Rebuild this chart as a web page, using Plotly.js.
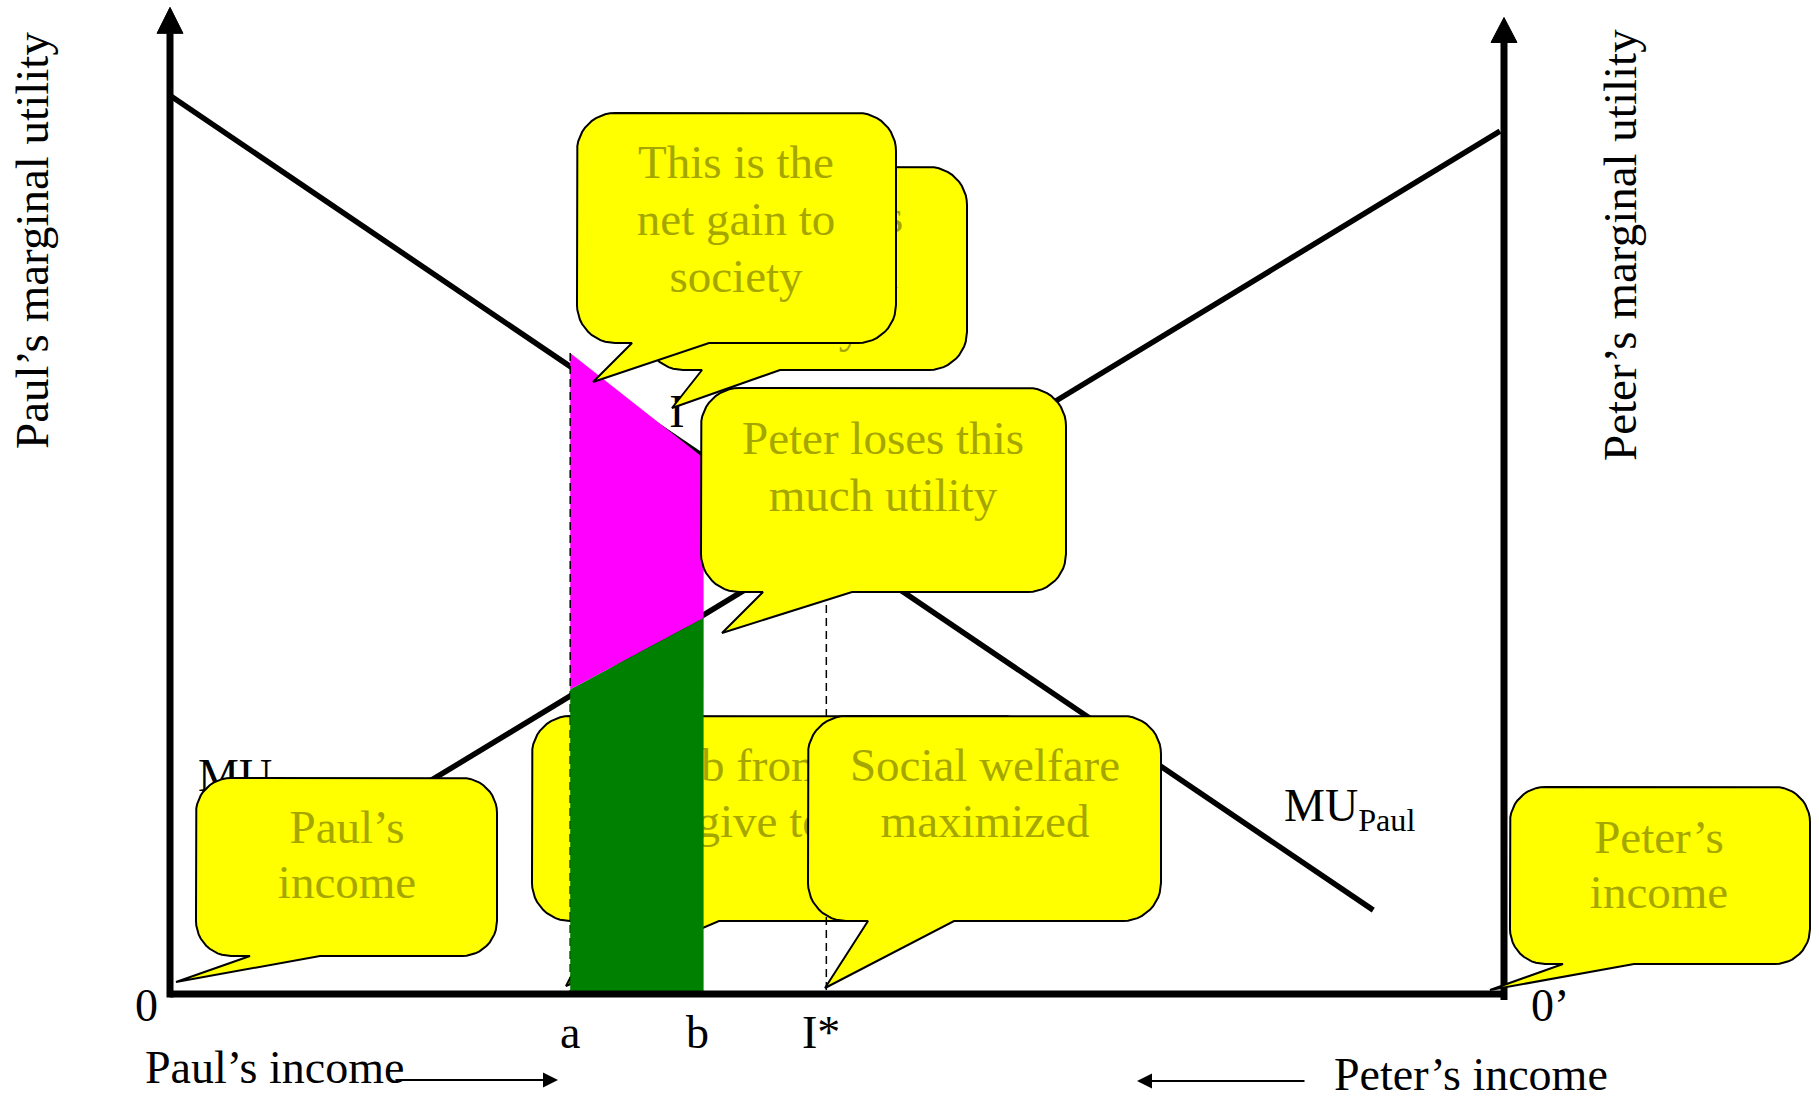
<!DOCTYPE html>
<html><head><meta charset="utf-8">
<script src="https://cdn.plot.ly/plotly-3.0.1.min.js"></script>
<style>html,body{margin:0;padding:0;background:#fff;overflow:hidden}#chart{width:1819px;height:1097px}</style>
</head><body><div id="chart"></div><script>
// ---------- data (income 0..100 along the box, utility 0..100) ----------
const tickValues = [30, 40, 49.2];
const tickLabels = ['a', 'b', 'I*'];
const muPaulX = [0, 90.2];
const muPaulY = [93.2, 8.7];
const muPeterX = [19.5, 99.7];
const muPeterY = [22.1, 89.5];
const gainX = [30, 40, 40, 30];          // net gain to society (magenta)
const gainY = [66.5, 55.6, 39.0, 31.6];
const lossX = [30, 40, 40, 30];          // Peter's loss (green)
const lossY = [31.6, 39.0, 0, 0];
const dashX = [30, 49.2];                // a and I*
const dashTopY = [66.5, 47.1];
const incomeMax = 100;
const axisTopLeft = 102.35, axisTopRight = 101.3;

// ---------- layout geometry ----------
const W = 1819, H = 1097;
const X0 = 170, XS = 13.34, Y0 = 994, YS = 9.64;
const dx = p => (p - X0) / XS, dy = p => (Y0 - p) / YS;
const SERIF = 'Liberation Serif, Times New Roman, serif';
const OLIVE = '#a6a600';

function bubble(L, T, R, B, r, b1, b2, tx, ty) {
  const px = [], py = [];
  const arc = (cx, cy, a0, a1) => {
    for (let i = 0; i <= 12; i++) {
      const t = (a0 + (a1 - a0) * i / 12) * Math.PI / 180;
      px.push(cx + r * Math.cos(t)); py.push(cy + r * Math.sin(t));
    }
  };
  px.push(L + r); py.push(T);
  arc(R - r, T + r, -90, 0);
  arc(R - r, B - r, 0, 90);
  px.push(b2, tx, b1); py.push(B, ty, B);
  arc(L + r, B - r, 90, 180);
  arc(L + r, T + r, 180, 270);
  return {x: px.map(dx), y: py.map(dy)};
}
function bubbleTrace(g) {
  return {type: 'scatter', mode: 'lines', x: g.x, y: g.y, fill: 'toself',
    fillcolor: '#ffff00', line: {color: '#000', width: 2}, hoverinfo: 'skip'};
}
// one text per line so the line spacing can follow the reference
function textTrace(xs, ys, texts, color, size) {
  return {type: 'scatter', mode: 'text', x: xs.map(dx), y: ys.map(dy), text: texts,
    textposition: 'middle center', hoverinfo: 'skip',
    textfont: {family: SERIF, size: size || 47, color: color || OLIVE}};
}
function linesText(cx, ys, lines) {
  return textTrace(ys.map(() => cx), ys, lines);
}
function lineTrace(xs, ys, w, dash) {
  return {type: 'scatter', mode: 'lines', x: xs, y: ys, hoverinfo: 'skip',
    line: {color: '#000', width: w, dash: dash || 'solid'}};
}
function triTrace(xc, yBase, yTip) {
  const hw = 13 / XS;
  return {type: 'scatter', mode: 'lines', x: [xc - hw, xc + hw, xc, xc - hw],
    y: [yBase, yBase, yTip, yBase], fill: 'toself', fillcolor: '#000',
    line: {color: '#000', width: 1}, hoverinfo: 'skip'};
}

const traces = [];
// curves
traces.push(lineTrace(muPaulX, muPaulY, 5.5));
traces.push(lineTrace(muPeterX, muPeterY, 5.5));
// labels later covered by callouts
traces.push({type: 'scatter', mode: 'text', x: [dx(198)], y: [dy(779)], text: ['MU<sub>Peter</sub>'],
  textposition: 'middle right', hoverinfo: 'skip', textfont: {family: SERIF, size: 46, color: '#000'}});
traces.push(textTrace([677], [415], ['I'], '#000', 46));
// rob-from callout (behind the areas)
traces.push(bubbleTrace(bubble(532, 716, 1040, 921, 38, 600, 719, 566, 986)));
traces.push(textTrace([791, 769], [769.5, 825.5], ['Rob from Peter', 'and give to Paul']));
// areas
traces.push({type: 'scatter', mode: 'lines', x: gainX, y: gainY, fill: 'toself', fillcolor: '#ff00ff',
  line: {width: 0, color: '#ff00ff'}, hoverinfo: 'skip'});
dashX.forEach((xv, i) => traces.push(lineTrace([xv, xv], [dashTopY[i], 0], 1.5, '8px,5px')));
traces.push({type: 'scatter', mode: 'lines', x: lossX, y: lossY, fill: 'toself', fillcolor: '#008000',
  line: {width: 0, color: '#008000'}, hoverinfo: 'skip'});
// axes
traces.push(lineTrace([0, 0], [dy(997.5), axisTopLeft - 26 / YS], 7));
traces.push(triTrace(0, axisTopLeft - 26 / YS, axisTopLeft));
traces.push(lineTrace([incomeMax, incomeMax], [dy(1000), axisTopRight - 25 / YS], 7));
traces.push(triTrace(incomeMax, axisTopRight - 25 / YS, axisTopRight));
traces.push(lineTrace([0, incomeMax], [0, 0], 7));
// callouts
traces.push(bubbleTrace(bubble(645, 167, 967, 370, 38, 702, 780, 672, 408)));
traces.push(linesText(806, [220, 276, 330], ['Paul gains', 'this much', 'utility']));
traces.push(bubbleTrace(bubble(577, 113, 896, 343, 38, 632, 709, 593, 382)));
traces.push(linesText(736, [166.5, 223.5, 280.5], ['This is the', 'net gain to', 'society']));
traces.push(bubbleTrace(bubble(701, 388, 1066, 592, 38, 763, 852, 722, 633)));
traces.push(linesText(883, [442.5, 499.5], ['Peter loses this', 'much utility']));
traces.push(bubbleTrace(bubble(808, 716, 1161, 921, 38, 868, 954, 825, 988)));
traces.push(linesText(985, [769.5, 825.5], ['Social welfare', 'maximized']));
traces.push(bubbleTrace(bubble(196, 778, 497, 956, 35, 250, 320, 176, 982)));
traces.push(linesText(347, [831, 886], ['Paul’s', 'income']));
traces.push(bubbleTrace(bubble(1510, 787, 1810, 964, 35, 1563, 1634, 1490, 990)));
traces.push(linesText(1659, [841, 896], ['Peter’s', 'income']));

const f46 = {family: SERIF, size: 46, color: '#000'};
const annotations = [
  {x: dx(32), y: dy(241), text: 'Paul’s marginal utility', textangle: -90, showarrow: false, font: {family: SERIF, size: 47, color: '#000'}},
  {x: dx(1620), y: dy(245), text: 'Peter’s marginal utility', textangle: -90, showarrow: false, font: {family: SERIF, size: 47, color: '#000'}},
  {x: dx(146), y: dy(1005.5), text: '0', showarrow: false, font: f46},
  {x: dx(1529), y: dy(1005.5), text: '0’', xanchor: 'left', showarrow: false, font: f46},
  {x: dx(143), y: dy(1067.5), text: 'Paul’s income', xanchor: 'left', showarrow: false, font: f46},
  {x: dx(1332), y: dy(1074.5), text: 'Peter’s income', xanchor: 'left', showarrow: false, font: f46},
  {x: dx(1282), y: dy(809), text: 'MU<sub>Paul</sub>', xanchor: 'left', showarrow: false, font: f46},
  {x: dx(558), y: dy(1080), ax: dx(394), ay: dy(1080), axref: 'x', ayref: 'y', text: '', showarrow: true,
    arrowhead: 2, arrowsize: 1.5, arrowwidth: 2, arrowcolor: '#000', standoff: 0},
  {x: dx(1137), y: dy(1081), ax: dx(1306), ay: dy(1081), axref: 'x', ayref: 'y', text: '', showarrow: true,
    arrowhead: 2, arrowsize: 1.5, arrowwidth: 2, arrowcolor: '#000', standoff: 0}
];
const tickShift = [0, -6, -5];
tickValues.forEach((v, i) => annotations.push({x: v, y: dy(1032.5), text: tickLabels[i], xshift: tickShift[i],
  showarrow: false, font: f46}));

const layout = {
  width: W, height: H, margin: {l: 0, r: 0, t: 0, b: 0},
  paper_bgcolor: '#fff', plot_bgcolor: '#fff', showlegend: false, hovermode: false,
  xaxis: {range: [dx(0), dx(W)], visible: false, fixedrange: true},
  yaxis: {range: [dy(H), dy(0)], visible: false, fixedrange: true},
  annotations: annotations
};
Plotly.newPlot('chart', traces, layout, {displayModeBar: false, staticPlot: true});
</script></body></html>
